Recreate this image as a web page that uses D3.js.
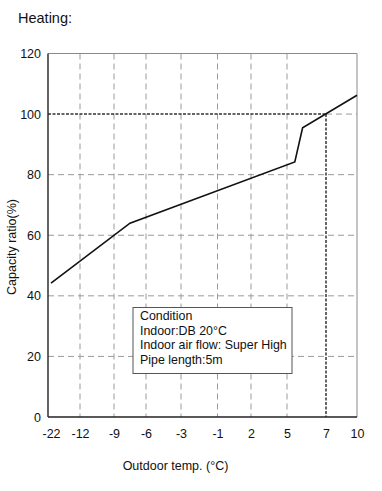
<!DOCTYPE html>
<html><head><meta charset="utf-8">
<script src="https://cdn.jsdelivr.net/npm/d3@7"></script>
<style>
body{margin:0;background:#fff;}
svg{display:block;font-family:"Liberation Sans",Arial,sans-serif;}
</style></head><body>
<svg id="c" width="382" height="491"></svg>
<script>
// Data
const xTicks = [-22, -12, -9, -6, -3, -1, 2, 5, 7, 10];
const yTicks = [0, 20, 40, 60, 80, 100, 120];
const temps = [-22, -7.5, 5.4, 5.8, 10];
const capacity = [44.2, 64, 84.2, 95.5, 106.2];
const refTemp = 7, refCap = 100;
const conditionLines = ["Condition", "Indoor:DB 20°C", "Indoor air flow: Super High", "Pipe length:5m"];

// Layout
const L = 48, R = 357, T = 53.5, B = 417;
const xPos = [51, 80, 114, 146, 181, 217.5, 251, 287, 326, 357];
const x = d3.scaleLinear().domain(xTicks).range(xPos);
const y = d3.scaleLinear().domain([0, 120]).range([B, T]);

const svg = d3.select("#c");
const grey = "#9a9a9a", dark = "#333";

// title
svg.append("text").attr("x", 18).attr("y", 23).attr("font-size", 14.5).attr("fill", "#111").text("Heating:");

// horizontal grid
svg.append("g").selectAll("line").data([20, 40, 60, 80]).join("line")
  .attr("x1", L).attr("x2", R).attr("y1", d => y(d)).attr("y2", d => y(d))
  .attr("stroke", grey).attr("stroke-dasharray", "6,4");
// 100 line: grey part right of 7
svg.append("line").attr("x1", x(refTemp)).attr("x2", R).attr("y1", y(refCap)).attr("y2", y(refCap))
  .attr("stroke", grey).attr("stroke-dasharray", "6,4");
// vertical grid
svg.append("g").selectAll("line").data(xTicks.filter(d => d > -22 && d < 7)).join("line")
  .attr("x1", d => x(d)).attr("x2", d => x(d)).attr("y1", T).attr("y2", B)
  .attr("stroke", grey).attr("stroke-dasharray", "6,4");
// top & right frame
svg.append("line").attr("x1", L).attr("x2", R).attr("y1", y(120)).attr("y2", y(120)).attr("stroke", "#8a8a8a");
svg.append("line").attr("x1", x(10)).attr("x2", x(10)).attr("y1", T).attr("y2", B).attr("stroke", "#8a8a8a");

// reference dotted lines
svg.append("line").attr("x1", L).attr("x2", x(refTemp)).attr("y1", y(refCap)).attr("y2", y(refCap))
  .attr("stroke", dark).attr("stroke-width", 1.5).attr("stroke-dasharray", "3,1.5");
svg.append("line").attr("x1", x(refTemp)).attr("x2", x(refTemp)).attr("y1", y(refCap)).attr("y2", B)
  .attr("stroke", dark).attr("stroke-width", 1.5).attr("stroke-dasharray", "3,1.5");

// axes
const xAxis = svg.append("g").attr("transform", `translate(0,${B})`)
  .call(d3.axisBottom(x).tickValues(xTicks).tickSize(0).tickPadding(12).tickFormat(d => d));
const yAxis = svg.append("g").attr("transform", `translate(${L},0)`)
  .call(d3.axisLeft(y).tickValues(yTicks).tickSize(0).tickPadding(7));
[xAxis, yAxis].forEach(g => {
  g.select(".domain").remove();
  g.selectAll("text").attr("font-size", 12.5).attr("fill", "#111").attr("font-family", '"Liberation Sans",Arial,sans-serif');
});
svg.append("line").attr("x1", L).attr("x2", L).attr("y1", T).attr("y2", B).attr("stroke", "#222").attr("stroke-width", 1.4);
svg.append("line").attr("x1", L).attr("x2", R).attr("y1", B).attr("y2", B).attr("stroke", "#222").attr("stroke-width", 1.4);

// data line
const pts = temps.map((t, i) => [t, capacity[i]]);
svg.append("path").datum(pts)
  .attr("d", d3.line().x(d => x(d[0])).y(d => y(d[1])))
  .attr("fill", "none").attr("stroke", "#111").attr("stroke-width", 1.6);

// condition box
const bx = 133, by = 307.5, bw = 159, bh = 66;
svg.append("rect").attr("x", bx).attr("y", by).attr("width", bw).attr("height", bh)
  .attr("fill", "#fff").attr("stroke", "#555").attr("stroke-width", 1);
svg.append("g").selectAll("text").data(conditionLines).join("text")
  .attr("x", bx + 7).attr("y", (d, i) => by + 12.5 + i * 14.6)
  .attr("font-size", 12.4).attr("fill", "#111").text(d => d);

// axis titles
svg.append("text").attr("x", 175.5).attr("y", 470).attr("text-anchor", "middle")
  .attr("font-size", 12.5).attr("fill", "#111").text("Outdoor temp. (°C)");
svg.append("text").attr("transform", "translate(16,247) rotate(-90)").attr("text-anchor", "middle")
  .attr("font-size", 12.5).attr("fill", "#111").text("Capacity ratio(%)");
</script>
</body></html>
